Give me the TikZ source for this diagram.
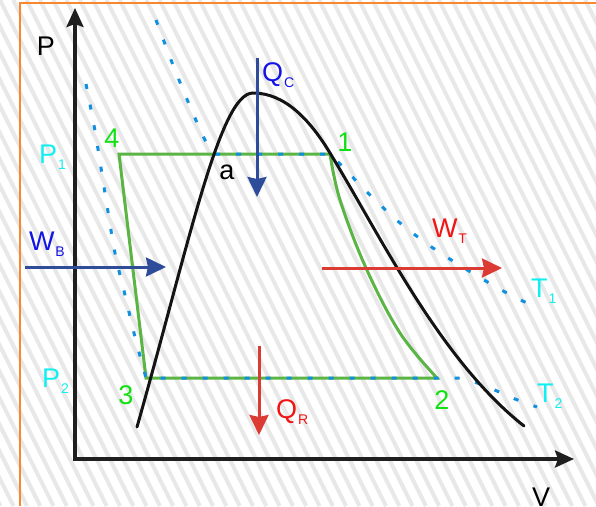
\documentclass[tikz,border=0pt]{standalone}
\usepackage{fontspec}
\setmainfont{Liberation Sans}
\usetikzlibrary{arrows.meta}
\definecolor{hatchgray}{HTML}{E8E8E8}
\definecolor{borderorange}{HTML}{F7882F}
\definecolor{cyclegreen}{HTML}{5BB544}
\definecolor{labelgreen}{HTML}{11E011}
\definecolor{labelcyan}{HTML}{11F0F0}
\definecolor{labelblue}{HTML}{1414E6}
\definecolor{labelred}{HTML}{F01414}
\definecolor{arrowblue}{HTML}{2F4C9B}
\definecolor{arrowred}{HTML}{DC3B34}
\definecolor{isoblue}{HTML}{1090E0}
\newcommand{\mysub}[1]{\kern1pt\raisebox{-6pt}{\fontsize{14}{14}\selectfont #1}}
\begin{document}
\begin{tikzpicture}[x=1pt,y=-1pt,
  hatch/.style={hatchgray,line width=4pt},
  axisline/.style={line width=3.5pt,color=black!88,-{Stealth[length=19pt,width=17pt,inset=3pt]}},
  heatarrow/.style={line width=3pt,-{Stealth[length=20pt,width=19pt,inset=2pt]}},
  domeline/.style={line width=3pt,black!92,line cap=round},
  cycleline/.style={line width=3pt,cyclegreen,line join=miter},
  isoline/.style={line width=3pt,isoblue,dash pattern=on 5pt off 16pt},
  lbl/.style={inner sep=0pt,outer sep=0pt,font=\fontsize{27}{30}\selectfont}
]
\useasboundingbox (0,0) rectangle (596,506);
\fill[white] (0,0) rectangle (596,506);
\begin{scope}
  \clip (0,0) rectangle (596,506);
  \foreach \i in {-22,...,46} {\draw[hatch] (\i*13.3,0) -- ++(253,506);}
\end{scope}
\draw[borderorange,line width=2pt] (596,3) -- (20,3) -- (20,506);

% cycle points
\coordinate (p4) at (119,154);
\coordinate (p1) at (330,154);
\coordinate (p2) at (437,378);
\coordinate (p3) at (146,378);
\coordinate (pa) at (215,154);

% cycle
\draw[cycleline] (p4) -- (p1)
  -- plot[smooth,tension=0.6] coordinates {(330,154) (340,200) (366,268) (400,333) (437,378)}
  -- (p3) -- cycle;

% isotherms
\draw[isoline] plot[smooth,tension=0.5] coordinates {(156,20) (173,65) (189,104) (205,140) (215,154)}
  -- (p1) -- plot[smooth,tension=0.5] coordinates {(330,154) (340,164) (369,194) (400,223) (433,248) (469,271) (505,292) (527,303)};
\draw[isoline] plot[smooth,tension=0.5] coordinates {(86,84) (95,131) (105,193) (115,253) (125,295) (135,337) (146,378)}
  -- (462,378) -- plot[smooth,tension=0.5] coordinates {(462,378) (480,384) (497,391) (515,399) (537,407)};

% saturation dome
\coordinate (domeL) at (137,427);
\coordinate (domeTop) at (253,93);
\coordinate (domeR) at (524,426);
\draw[domeline] (domeL) .. controls (190,240) and (220,93) .. (domeTop)
  .. controls (285,93) and (310,120) .. (330,153)
  .. controls (380,235) and (440,360) .. (domeR);

% axes
\coordinate (origin) at (75,459);
\coordinate (ptop) at (75,8);
\coordinate (vend) at (574,459);
\draw[axisline] (75,461) -- (ptop);
\draw[axisline] (73,459) -- (vend);

% heat and work arrows
\coordinate (qcs) at (257,58);  \coordinate (qce) at (257,197);
\coordinate (wbs) at (25,267);  \coordinate (wbe) at (166,267);
\coordinate (wts) at (322,268); \coordinate (wte) at (502,268);
\coordinate (qrs) at (259,346); \coordinate (qre) at (259,435);
\draw[heatarrow,arrowblue] (qcs) -- (qce);
\draw[heatarrow,arrowblue] (wbs) -- (wbe);
\draw[heatarrow,arrowred] (wts) -- (wte);
\draw[heatarrow,arrowred] (qrs) -- (qre);

% labels
\node[lbl] (lP) at (46,46) {P};
\node[lbl,anchor=base west] (lV) at (532,506) {V};
\node[lbl,anchor=base west,labelcyan] (lP1) at (39,163) {P\mysub{1}};
\node[lbl,anchor=base west,labelcyan] (lP2) at (42,387) {P\mysub{2}};
\node[lbl,anchor=base west,labelblue] (lWB) at (29,250) {W\mysub{B}};
\node[lbl,anchor=base west,labelblue] (lQC) at (262,81) {Q\mysub{C}};
\node[lbl,anchor=base west,labelred] (lWT) at (432,237) {W\mysub{T}};
\node[lbl,anchor=base west,labelred] (lQR) at (276,418) {Q\mysub{R}};
\node[lbl,anchor=base west,labelcyan] (lT1) at (531,297) {T\mysub{1}};
\node[lbl,anchor=base west,labelcyan] (lT2) at (537,402) {T\mysub{2}};
\node[lbl,labelgreen] (n4) at (112,138) {4};
\node[lbl,labelgreen] (n1) at (345,142) {1};
\node[lbl,labelgreen] (n2) at (442,400) {2};
\node[lbl,labelgreen] (n3) at (126,395) {3};
\node[lbl] (na) at (227,172) {a};
\end{tikzpicture}
\end{document}
